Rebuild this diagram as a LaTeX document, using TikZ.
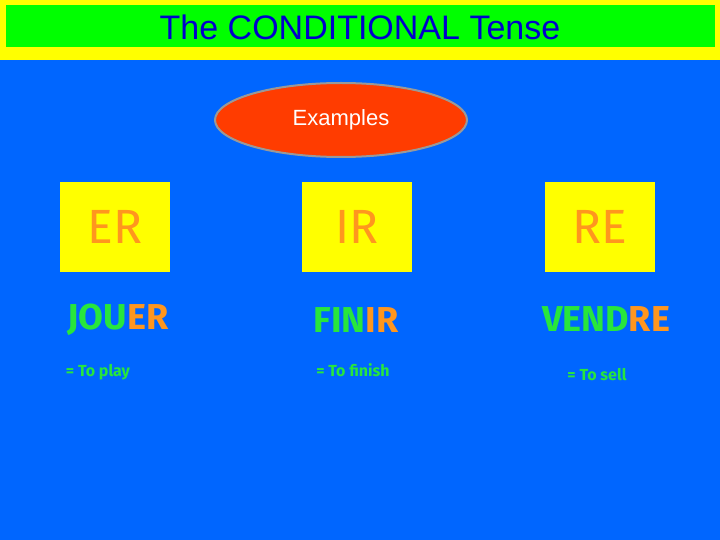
\documentclass[tikz,border=0pt]{standalone}
\usepackage{fontspec}
\setmainfont{Fira Sans}
\newfontfamily\arialf{Liberation Sans}
\usetikzlibrary{shapes.geometric}
\definecolor{bg}{RGB}{0,102,255}
\definecolor{ttlg}{RGB}{0,255,0}
\definecolor{ttly}{RGB}{255,255,0}
\definecolor{ttlb}{RGB}{0,0,204}
\definecolor{redell}{RGB}{255,60,0}
\definecolor{orng}{RGB}{255,150,30}
\definecolor{grn}{RGB}{40,230,60}
\tikzset{x=1pt,y=-1pt,
 endbox/.style={fill=ttly,minimum width=110pt,minimum height=89pt,text=orng,font=\fontsize{48}{50}\selectfont,inner sep=0pt},
 word/.style={font=\bfseries\fontsize{36}{40}\selectfont,text=grn},
 trans/.style={font=\bfseries\fontsize{16}{18}\selectfont,text=grn}}
\begin{document}
\begin{tikzpicture}
\useasboundingbox (0,0) rectangle (720,540);
\fill[bg] (0,0) rectangle (720,540);
\fill[ttly] (0,0) rectangle (720,60);
\fill[ttlg] (6,5) rectangle (715,47);
\node[text=ttlb,font=\arialf\fontsize{34}{36}\selectfont] (title) at (360,27) {The CONDITIONAL Tense};
\node[ellipse,fill=redell,draw=gray!80,line width=2pt,minimum width=252pt,minimum height=74pt,text=white,font=\arialf\fontsize{22}{24}\selectfont] (ex) at (341,120) {Examples};
\node[endbox] (er) at (115,227) {ER};
\node[endbox] (ir) at (357,227) {IR};
\node[endbox] (re) at (600,227) {RE};
\node[word] (jouer) at (118,320) {JOU\textcolor{orng}{ER}};
\node[word] (finir) at (356,320) {FIN\textcolor{orng}{IR}};
\node[word] (vendre) at (606,319) {VEND\textcolor{orng}{RE}};
\node[trans] (t1) at (98,372) {= To play};
\node[trans] (t2) at (353,370) {= To finish};
\node[trans] (t3) at (597,375) {= To sell};
\end{tikzpicture}
\end{document}
